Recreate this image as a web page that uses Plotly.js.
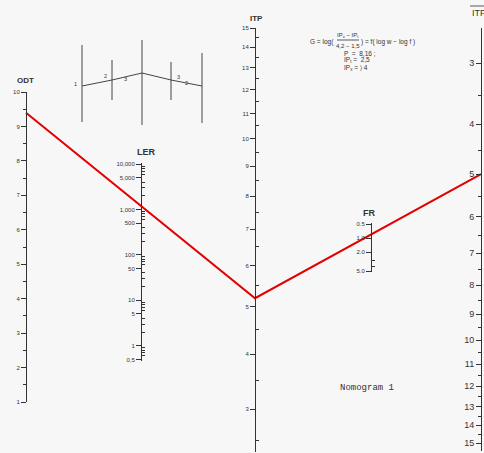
<!DOCTYPE html>
<html><head><meta charset="utf-8">
<script src="https://cdn.plot.ly/plotly-3.0.1.min.js"></script>
<style>html,body{margin:0;padding:0;background:#f7f7f7}</style>
</head><body><div id="chart" style="width:484px;height:453px"></div>
<script>
// ---------- data ----------
const odtTicks = [1,2,3,4,5,6,7,8,9,10];
const odtMinor = [1.5,2.5,3.5,4.5,5.5,6.5,7.5,8.5,9.5];
const lerTicks = [0.5,1,5,10,50,100,500,1000,5000,10000];
const lerLabels = ['0,5','1','5','10','50','100','500','1,000','5,000','10,000'];
const lerMinor = [0.6,0.7,0.8,0.9,2,3,4,6,7,8,9,20,30,40,60,70,80,90,200,300,400,600,700,800,900,2000,3000,4000,6000,7000,8000,9000];
const itpTicks = [3,4,5,6,7,8,9,10,11,12,13,14,15];
const itpMinor = [2.5,3.5,4.5,5.5,6.5,7.5,8.5,9.5,10.5,11.5,12.5,13.5,14.5];
const itpBarTicks = [3,4,5,6,7,8,9,10,11,12,13,14,15];
const itpBarMinor = [3.5,4.5,5.5,6.5,7.5,8.5,9.5,10.5,11.5,12.5,13.5,14.5];
const frTicks = [0.5,1,2,5];
const frLabels = ['0.5','1.0','2.0','5.0'];
const frMinor = [3,4];
const keyScales = ['ODT','ITP','ITPbar'];
const keyValues = [9.4,5.2,5.0];

// ---------- geometry (pixel layout of each scale) ----------
const W = 484, H = 453;
const geo = {
  ODT:   {x:26,  type:'linear', off:0,   v1:10,    p1:92,  v2:1,   p2:402,   top:92,  bottom:402},
  LER:   {x:141, type:'log',    off:0,   v1:10000, p1:164, v2:0.5, p2:359.4, top:163, bottom:361},
  ITP:   {x:255, type:'log',    off:2.5, v1:15,    p1:28,  v2:3,   p2:409,   top:28,  bottom:452},
  FR:    {x:371, type:'log',    off:0,   v1:0.5,   p1:224, v2:5,   p2:271,   top:223, bottom:272},
  ITPbar:{x:481, type:'log',    off:1,   v1:3,     p1:63,  v2:15,  p2:443,   top:28,  bottom:451}
};
function tf(g,v){ return g.type==='log' ? Math.log10(v+g.off) : v; }
function px(g,v){ const a=tf(g,g.v1), b=tf(g,g.v2); return g.p1 + (tf(g,v)-a)*(g.p2-g.p1)/(b-a); }
function tAt(g,p){ const a=tf(g,g.v1), b=tf(g,g.v2); return a + (p-g.p1)*(b-a)/(g.p2-g.p1); }

const ink = '#333';
function axis(g, ticks, labels, minor, fontSize, minorSide){
  return {
    type: g.type, anchor:'free', position: g.x/W, side:'left',
    domain:[1-g.bottom/H, 1-g.top/H],
    range:[tAt(g,g.bottom), tAt(g,g.top)],
    tickmode:'array', tickvals: ticks.map(v=>v+g.off), ticktext: labels,
    ticks:'outside', ticklen:5, tickwidth:1, tickcolor:ink,
    showline:true, linecolor:ink, linewidth:1.3,
    showgrid:false, zeroline:false, fixedrange:true,
    tickfont:{family:'Liberation Sans', size:fontSize, color:ink},
    minor:{tickmode:'array', tickvals: minor.map(v=>v+g.off), ticks:minorSide, ticklen:3, tickwidth:1, tickcolor:ink, showgrid:false}
  };
}

const layout = {
  width:W, height:H, margin:{l:0,r:0,t:0,b:0,pad:0},
  paper_bgcolor:'#f7f7f7', plot_bgcolor:'rgba(0,0,0,0)', showlegend:false,
  xaxis:{range:[0,W], visible:false, domain:[0,1], anchor:'y', fixedrange:true},
  yaxis:{range:[H,0], visible:false, domain:[0,1], anchor:'x', fixedrange:true},
  yaxis2: axis(geo.ODT, odtTicks, odtTicks.map(String), odtMinor, 6, 'outside'),
  yaxis3: axis(geo.LER, lerTicks, lerLabels, lerMinor, 6, 'inside'),
  yaxis4: axis(geo.ITP, itpTicks, itpTicks.map(String), itpMinor, 6, 'inside'),
  yaxis5: axis(geo.FR, frTicks, frLabels, frMinor, 6, 'inside'),
  yaxis6: axis(geo.ITPbar, itpBarTicks, itpBarTicks.map(String), itpBarMinor, 9, 'outside'),
  annotations:[], shapes:[]
};

function txt(x,y,text,size,anchor,family){
  layout.annotations.push({xref:'x',yref:'y',x:x,y:y,text:text,showarrow:false,
    xanchor:anchor||'center',yanchor:'middle',
    font:{family:family||'Liberation Sans',size:size,color:ink}});
}
// scale titles
txt(25,80,'<b>ODT</b>',8);
txt(146,152,'<b>LER</b>',9);
txt(256,18,'<b>ITP</b>',8);
txt(369,213,'<b>FR</b>',9);
txt(470,13,'ITP',9,'left');
layout.shapes.push({type:'line',xref:'x',yref:'y',x0:470,x1:484,y0:6,y1:6,line:{color:ink,width:0.8}});
// formula
txt(308,42,'G = log(',6.5,'left');
txt(348,35,'IP<sub>x</sub> \u2212 IP<sub>t</sub>',6);
txt(348,46,'4,2 \u2212 1,5',6);
txt(359,42,') = f( log w \u2212 log f )',6.5,'left');
txt(342,53,'P  =  8,16 ;',6.5,'left');
txt(342,60,'IP<sub>t</sub> =  2,5',6.5,'left');
txt(342,68,'IP<sub>x</sub> = \u232A 4',6.5,'left');
layout.shapes.push({type:'line',xref:'x',yref:'y',x0:337,x1:359,y0:40,y1:40,line:{color:ink,width:0.8}});
// Nomogram label
txt(338,388,'Nomogram 1',9,'left','Liberation Mono');

// inset schematic
const insetV = [[82,45,122],[112,60,100],[142,40,125],[171,62,100],[202,53,123]];
insetV.forEach(s=>layout.shapes.push({type:'line',xref:'x',yref:'y',x0:s[0],x1:s[0],y0:s[1],y1:s[2],line:{color:'#444',width:1}}));
layout.shapes.push({type:'path',xref:'x',yref:'y',path:'M82,86 L112,80 L142,73 L171,80 L202,86',line:{color:'#444',width:1}});
txt(79,84,'1',5.5,'right');
txt(109,76,'2',5.5,'right');
txt(125,79,'3',5.5);
txt(175,77,'3',5.5,'left');
txt(186,83,'2',5.5);

// ---------- traces ----------
const traces = [];
[['y2',odtTicks],['y3',lerTicks],['y4',itpTicks.map(v=>v+2.5)],['y5',frTicks],['y6',itpBarTicks.map(v=>v+1)]].forEach(a=>{
  traces.push({type:'scatter',mode:'markers',x:[0],y:[a[1][0]],xaxis:'x',yaxis:a[0],
    marker:{opacity:0},hoverinfo:'skip',showlegend:false});
});
traces.push({type:'scatter',mode:'lines',xaxis:'x',yaxis:'y',
  x: keyScales.map(s=>geo[s].x),
  y: keyScales.map((s,i)=>px(geo[s],keyValues[i])),
  line:{color:'#e30000',width:2},hoverinfo:'skip',showlegend:false});

Plotly.newPlot('chart', traces, layout, {displayModeBar:false, staticPlot:true});
</script>
</body></html>
